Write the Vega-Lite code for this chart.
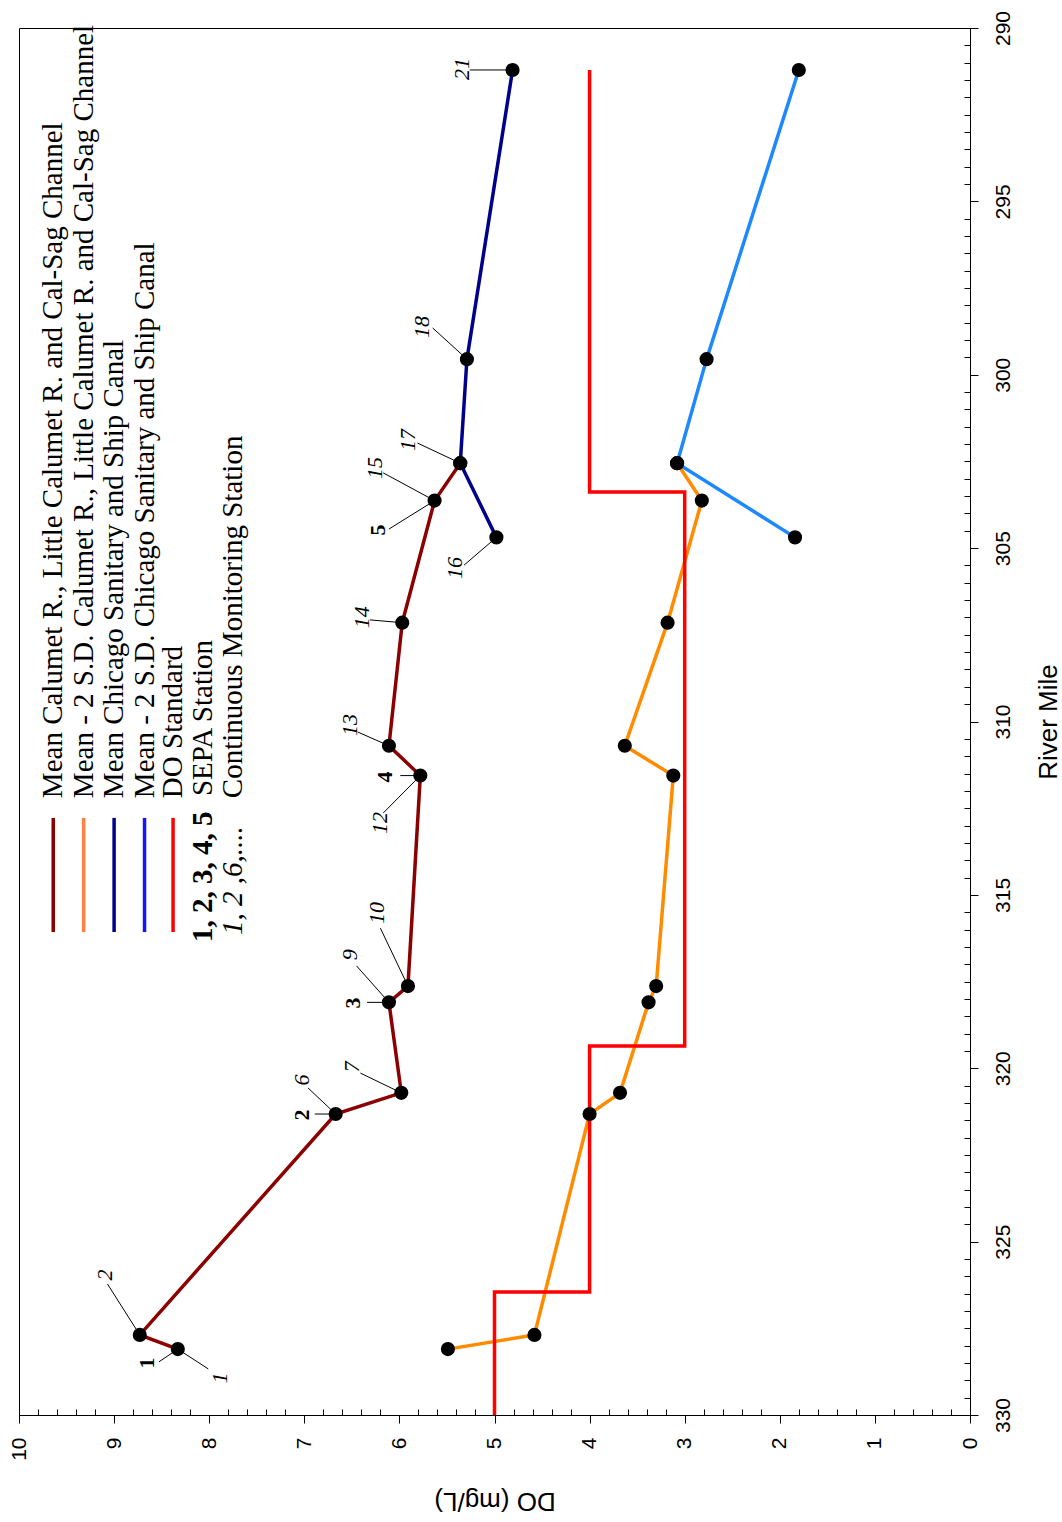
{
  "$schema": "https://vega.github.io/schema/vega-lite/v6.json",
  "width": 951,
  "height": 1387,
  "autosize": {"type": "none"},
  "padding": {"left": 19, "top": 28, "right": 92, "bottom": 107},
  "background": "white",
  "config": {
    "view": {"stroke": "black", "strokeWidth": 1},
    "font": "Liberation Sans"
  },
  "datasets": {
    "lines": [
      {"s": "calMean", "o": 1, "mile": 328.10, "do": 8.33},
      {"s": "calMean", "o": 2, "mile": 327.69, "do": 8.73},
      {"s": "calMean", "o": 3, "mile": 321.32, "do": 6.67},
      {"s": "calMean", "o": 4, "mile": 320.71, "do": 5.98},
      {"s": "calMean", "o": 5, "mile": 318.10, "do": 6.11},
      {"s": "calMean", "o": 6, "mile": 317.63, "do": 5.91},
      {"s": "calMean", "o": 7, "mile": 311.56, "do": 5.78},
      {"s": "calMean", "o": 8, "mile": 310.70, "do": 6.11},
      {"s": "calMean", "o": 9, "mile": 307.15, "do": 5.97},
      {"s": "calMean", "o": 10, "mile": 303.63, "do": 5.63},
      {"s": "calMean", "o": 11, "mile": 302.55, "do": 5.36},
      {"s": "calSD", "o": 1, "mile": 328.10, "do": 5.49},
      {"s": "calSD", "o": 2, "mile": 327.69, "do": 4.58},
      {"s": "calSD", "o": 3, "mile": 321.32, "do": 4.00},
      {"s": "calSD", "o": 4, "mile": 320.71, "do": 3.68},
      {"s": "calSD", "o": 5, "mile": 318.10, "do": 3.38},
      {"s": "calSD", "o": 6, "mile": 317.63, "do": 3.30},
      {"s": "calSD", "o": 7, "mile": 311.56, "do": 3.12},
      {"s": "calSD", "o": 8, "mile": 310.70, "do": 3.63},
      {"s": "calSD", "o": 9, "mile": 307.15, "do": 3.18},
      {"s": "calSD", "o": 10, "mile": 303.63, "do": 2.82},
      {"s": "calSD", "o": 11, "mile": 302.55, "do": 3.08},
      {"s": "cssMean", "o": 1, "mile": 304.69, "do": 4.98},
      {"s": "cssMean", "o": 2, "mile": 302.55, "do": 5.36},
      {"s": "cssMean", "o": 3, "mile": 299.55, "do": 5.29},
      {"s": "cssMean", "o": 4, "mile": 291.21, "do": 4.81},
      {"s": "cssSD", "o": 1, "mile": 304.69, "do": 1.84},
      {"s": "cssSD", "o": 2, "mile": 302.55, "do": 3.08},
      {"s": "cssSD", "o": 3, "mile": 299.55, "do": 2.77},
      {"s": "cssSD", "o": 4, "mile": 291.21, "do": 1.80},
      {"s": "std", "o": 1, "mile": 330.0, "do": 5},
      {"s": "std", "o": 2, "mile": 326.45, "do": 5},
      {"s": "std", "o": 3, "mile": 326.45, "do": 4},
      {"s": "std", "o": 4, "mile": 319.36, "do": 4},
      {"s": "std", "o": 5, "mile": 319.36, "do": 3},
      {"s": "std", "o": 6, "mile": 303.38, "do": 3},
      {"s": "std", "o": 7, "mile": 303.38, "do": 4},
      {"s": "std", "o": 8, "mile": 291.21, "do": 4}
    ],
    "leaders": [
      {"do": 8.33, "mile": 328.10, "do2": 8.01, "mile2": 328.67},
      {"do": 8.53, "mile": 328.47, "do2": 8.33, "mile2": 328.10},
      {"do": 9.07, "mile": 326.22, "do2": 8.73, "mile2": 327.69},
      {"do": 6.96, "mile": 320.57, "do2": 6.67, "mile2": 321.32},
      {"do": 6.89, "mile": 321.32, "do2": 6.67, "mile2": 321.32},
      {"do": 6.41, "mile": 320.14, "do2": 5.98, "mile2": 320.71},
      {"do": 6.34, "mile": 318.10, "do2": 6.11, "mile2": 318.10},
      {"do": 6.45, "mile": 317.05, "do2": 6.11, "mile2": 318.10},
      {"do": 6.20, "mile": 315.96, "do2": 5.91, "mile2": 317.63},
      {"do": 6.31, "mile": 307.07, "do2": 5.97, "mile2": 307.15},
      {"do": 6.44, "mile": 310.30, "do2": 6.11, "mile2": 310.70},
      {"do": 5.99, "mile": 311.56, "do2": 5.78, "mile2": 311.56},
      {"do": 6.17, "mile": 312.64, "do2": 5.78, "mile2": 311.56},
      {"do": 5.65, "mile": 298.65, "do2": 5.29, "mile2": 299.55},
      {"do": 5.81, "mile": 301.97, "do2": 5.36, "mile2": 302.55},
      {"do": 6.17, "mile": 302.83, "do2": 5.63, "mile2": 303.63},
      {"do": 6.11, "mile": 304.45, "do2": 5.63, "mile2": 303.63},
      {"do": 5.32, "mile": 305.49, "do2": 4.98, "mile2": 304.69},
      {"do": 5.26, "mile": 291.21, "do2": 4.81, "mile2": 291.21}
    ],
    "labels": [
      {"t": "1", "k": "i", "do": 7.89, "mile": 328.93},
      {"t": "1", "k": "b", "do": 8.65, "mile": 328.50},
      {"t": "2", "k": "i", "do": 9.10, "mile": 325.96},
      {"t": "6", "k": "i", "do": 7.02, "mile": 320.34},
      {"t": "2", "k": "b", "do": 7.02, "mile": 321.35},
      {"t": "7", "k": "i", "do": 6.50, "mile": 319.96},
      {"t": "3", "k": "b", "do": 6.49, "mile": 318.12},
      {"t": "9", "k": "i", "do": 6.52, "mile": 316.73},
      {"t": "10", "k": "i", "do": 6.24, "mile": 315.52},
      {"t": "14", "k": "i", "do": 6.39, "mile": 306.99},
      {"t": "13", "k": "i", "do": 6.52, "mile": 310.10},
      {"t": "4", "k": "b", "do": 6.15, "mile": 311.60},
      {"t": "12", "k": "i", "do": 6.20, "mile": 312.93},
      {"t": "18", "k": "i", "do": 5.76, "mile": 298.62},
      {"t": "17", "k": "i", "do": 5.91, "mile": 301.88},
      {"t": "15", "k": "i", "do": 6.26, "mile": 302.69},
      {"t": "5", "k": "b", "do": 6.22, "mile": 304.48},
      {"t": "16", "k": "i", "do": 5.42, "mile": 305.57},
      {"t": "21", "k": "i", "do": 5.34, "mile": 291.18}
    ],
    "legendLines": [
      {"s": "calMean", "do": 9.64, "mile": 312.78, "mile2": 316.07},
      {"s": "calSDleg", "do": 9.32, "mile": 312.78, "mile2": 316.07},
      {"s": "cssMean", "do": 9.00, "mile": 312.78, "mile2": 316.07},
      {"s": "cssSDleg", "do": 8.68, "mile": 312.78, "mile2": 316.07},
      {"s": "std", "do": 8.38, "mile": 312.78, "mile2": 316.07}
    ],
    "legendText": [
      {"t": "Mean Calumet R., Little Calumet R. and Cal-Sag Channel", "k": "n", "do": 9.64, "mile": 312.21},
      {"t": "Mean - 2 S.D. Calumet R., Little Calumet R. and Cal-Sag Channel", "k": "n", "do": 9.32, "mile": 312.21},
      {"t": "Mean Chicago Sanitary and Ship Canal", "k": "n", "do": 9.00, "mile": 312.21},
      {"t": "Mean - 2 S.D. Chicago Sanitary and Ship Canal", "k": "n", "do": 8.68, "mile": 312.21},
      {"t": "DO Standard", "k": "n", "do": 8.38, "mile": 312.21},
      {"t": "SEPA Station", "k": "n", "do": 8.07, "mile": 312.15},
      {"t": "Continuous Monitoring Station", "k": "n", "do": 7.75, "mile": 312.21},
      {"t": "1, 2, 3, 4, 5", "k": "b", "do": 8.07, "mile": 316.36},
      {"t": "1, 2 ,6,....", "k": "i", "do": 7.75, "mile": 316.16}
    ]
  },
  "encoding": {
    "x": {"field": "do", "type": "quantitative", "scale": {"domain": [0, 10], "reverse": true, "nice": false, "zero": false}, "axis": null},
    "y": {"field": "mile", "type": "quantitative", "scale": {"domain": [290, 330], "reverse": true, "nice": false, "zero": false}, "axis": null}
  },
  "resolve": {"axis": {"x": "independent", "y": "independent"}},
  "layer": [
    {
      "data": {"name": "lines"},
      "transform": [{"filter": "datum.s !== 'std'"}],
      "mark": {"type": "line", "strokeWidth": 3.5},
      "encoding": {
        "color": {"field": "s", "type": "nominal", "legend": null,
          "scale": {"domain": ["calMean", "calSD", "cssMean", "cssSD", "std", "calSDleg", "cssSDleg"],
                    "range": ["#8B0000", "#FF8C00", "#00008B", "#1E88FF", "#FF0000", "#FF8040", "#1414FF"]}},
        "order": {"field": "o", "type": "quantitative"}
      }
    },
    {
      "data": {"name": "lines"},
      "transform": [{"filter": "datum.s === 'std'"}],
      "mark": {"type": "line", "strokeWidth": 3.5, "color": "#FF0000"},
      "encoding": {
        "order": {"field": "o", "type": "quantitative"},
        "x": {"field": "do", "type": "quantitative", "scale": {"domain": [0, 10], "reverse": true, "nice": false, "zero": false},
          "axis": {"orient": "bottom", "values": [0, 1, 2, 3, 4, 5, 6, 7, 8, 9, 10],
            "domain": true, "domainColor": "black", "domainWidth": 1,
            "ticks": true, "tickSize": 8, "tickColor": "black", "tickWidth": 1,
            "grid": false, "labelFlush": false, "labelOverlap": false,
            "labelAngle": 270, "labelAlign": "right", "labelBaseline": "middle",
            "labelFont": "Liberation Sans", "labelFontSize": 21, "labelColor": "black", "labelPadding": 14,
            "title": "DO (mg/L)", "titleFont": "Liberation Sans", "titleFontSize": 26, "titleFontWeight": "normal", "titleColor": "black",
            "titleAngle": 180, "titleAlign": "center", "titleBaseline": "middle", "titleX": 475.5, "titleY": 85}},
        "y": {"field": "mile", "type": "quantitative", "scale": {"domain": [290, 330], "reverse": true, "nice": false, "zero": false},
          "axis": {"orient": "right", "values": [290, 295, 300, 305, 310, 315, 320, 325, 330],
            "domain": true, "domainColor": "black", "domainWidth": 1,
            "ticks": true, "tickSize": 8, "tickColor": "black", "tickWidth": 1,
            "grid": false, "labelFlush": false, "labelOverlap": false,
            "labelAngle": 270, "labelAlign": "center", "labelBaseline": "top",
            "labelFont": "Liberation Sans", "labelFontSize": 21, "labelColor": "black", "labelPadding": 14,
            "title": "River Mile", "titleFont": "Liberation Sans", "titleFontSize": 26, "titleFontWeight": "normal", "titleColor": "black",
            "titleAngle": 270, "titleAlign": "center", "titleBaseline": "middle", "titleX": 78, "titleY": 693.5}}
      }
    },
    {
      "data": {"name": "lines"},
      "transform": [{"filter": "datum.s !== 'std'"}],
      "mark": {"type": "circle", "size": 200, "color": "black", "opacity": 1},
      "encoding": {
        "x": {"field": "do", "type": "quantitative", "scale": {"domain": [0, 10], "reverse": true, "nice": false, "zero": false},
          "axis": {"orient": "bottom", "values": [0.2, 0.4, 0.6, 0.8, 1.2, 1.4, 1.6, 1.8, 2.2, 2.4, 2.6, 2.8, 3.2, 3.4, 3.6, 3.8, 4.2, 4.4, 4.6, 4.8, 5.2, 5.4, 5.6, 5.8, 6.2, 6.4, 6.6, 6.8, 7.2, 7.4, 7.6, 7.8, 8.2, 8.4, 8.6, 8.8, 9.2, 9.4, 9.6, 9.8],
            "domain": false, "ticks": true, "tickSize": -6, "tickColor": "black", "tickWidth": 1,
            "labels": false, "grid": false, "title": null}},
        "y": {"field": "mile", "type": "quantitative", "scale": {"domain": [290, 330], "reverse": true, "nice": false, "zero": false},
          "axis": {"orient": "right", "values": [290.5, 291, 291.5, 292, 292.5, 293, 293.5, 294, 294.5, 295.5, 296, 296.5, 297, 297.5, 298, 298.5, 299, 299.5, 300.5, 301, 301.5, 302, 302.5, 303, 303.5, 304, 304.5, 305.5, 306, 306.5, 307, 307.5, 308, 308.5, 309, 309.5, 310.5, 311, 311.5, 312, 312.5, 313, 313.5, 314, 314.5, 315.5, 316, 316.5, 317, 317.5, 318, 318.5, 319, 319.5, 320.5, 321, 321.5, 322, 322.5, 323, 323.5, 324, 324.5, 325.5, 326, 326.5, 327, 327.5, 328, 328.5, 329, 329.5],
            "domain": false, "ticks": true, "tickSize": -6, "tickColor": "black", "tickWidth": 1,
            "labels": false, "grid": false, "title": null}}
      }
    },
    {
      "data": {"name": "leaders"},
      "mark": {"type": "rule", "color": "black", "strokeWidth": 1},
      "encoding": {
        "x2": {"field": "do2"},
        "y2": {"field": "mile2"}
      }
    },
    {
      "data": {"name": "labels"},
      "transform": [{"filter": "datum.k === 'i'"}],
      "mark": {"type": "text", "font": "Liberation Serif", "fontStyle": "italic", "fontSize": 22, "angle": 270, "align": "center", "baseline": "middle", "color": "black"},
      "encoding": {"text": {"field": "t", "type": "nominal"}}
    },
    {
      "data": {"name": "labels"},
      "transform": [{"filter": "datum.k === 'b'"}],
      "mark": {"type": "text", "font": "Liberation Serif", "fontWeight": "bold", "fontSize": 22, "angle": 270, "align": "center", "baseline": "middle", "color": "black"},
      "encoding": {"text": {"field": "t", "type": "nominal"}}
    },
    {
      "data": {"name": "legendLines"},
      "mark": {"type": "rule", "strokeWidth": 3.5},
      "encoding": {
        "y2": {"field": "mile2"},
        "color": {"field": "s", "type": "nominal", "legend": null,
          "scale": {"domain": ["calMean", "calSD", "cssMean", "cssSD", "std", "calSDleg", "cssSDleg"],
                    "range": ["#8B0000", "#FF8C00", "#00008B", "#1E88FF", "#FF0000", "#FF8040", "#1414FF"]}}
      }
    },
    {
      "data": {"name": "legendText"},
      "transform": [{"filter": "datum.k === 'n'"}],
      "mark": {"type": "text", "font": "Liberation Serif", "fontSize": 29, "angle": 270, "align": "left", "baseline": "middle", "color": "black"},
      "encoding": {"text": {"field": "t", "type": "nominal"}}
    },
    {
      "data": {"name": "legendText"},
      "transform": [{"filter": "datum.k === 'b'"}],
      "mark": {"type": "text", "font": "Liberation Serif", "fontWeight": "bold", "fontSize": 29, "angle": 270, "align": "left", "baseline": "middle", "color": "black"},
      "encoding": {"text": {"field": "t", "type": "nominal"}}
    },
    {
      "data": {"name": "legendText"},
      "transform": [{"filter": "datum.k === 'i'"}],
      "mark": {"type": "text", "font": "Liberation Serif", "fontStyle": "italic", "fontSize": 29, "angle": 270, "align": "left", "baseline": "middle", "color": "black"},
      "encoding": {"text": {"field": "t", "type": "nominal"}}
    }
  ]
}
